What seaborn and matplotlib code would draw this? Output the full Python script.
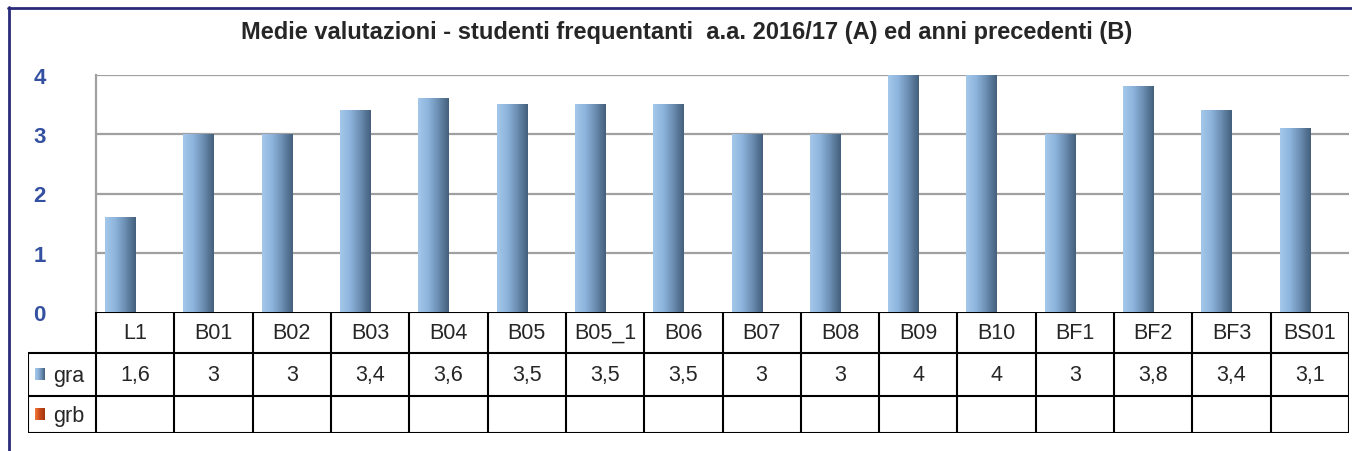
import numpy as np
import pandas as pd
import matplotlib
matplotlib.use("Agg")
import matplotlib.pyplot as plt
import seaborn as sns
from matplotlib.colors import LinearSegmentedColormap
from matplotlib.lines import Line2D

# data
categories = ["L1", "B01", "B02", "B03", "B04", "B05", "B05_1", "B06",
              "B07", "B08", "B09", "B10", "BF1", "BF2", "BF3", "BS01"]
gra = [1.6, 3, 3, 3.4, 3.6, 3.5, 3.5, 3.5, 3, 3, 4, 4, 3, 3.8, 3.4, 3.1]
grb = [np.nan] * len(categories)
series = ["gra", "grb"]
yticks = [0, 1, 2, 3, 4]
title = "Medie valutazioni - studenti frequentanti  a.a. 2016/17 (A) ed anni precedenti (B)"

df = pd.DataFrame({
    "cat": categories * 2,
    "serie": ["gra"] * len(categories) + ["grb"] * len(categories),
    "val": gra + grb,
})

sns.set_style("white")
plt.rcParams["font.family"] = ["Liberation Sans", "DejaVu Sans"]

W, H = 1352, 452
fig = plt.figure(figsize=(W / 100, H / 100), dpi=100)

# main plot area (pixel boxes converted to figure fractions)
x0, x1, ytop, ybot = 96, 1349, 76, 313
ax = fig.add_axes([x0 / W, 1 - ybot / H, (x1 - x0) / W, (ybot - ytop) / H])

blues = LinearSegmentedColormap.from_list("gb", ["#a3c8ea", "#8db4dc", "#6a8cb0", "#44607c"])
reds = LinearSegmentedColormap.from_list("gr", ["#f07838", "#c84818", "#a03810"])

sns.barplot(data=df, x="cat", y="val", hue="serie", hue_order=series,
            order=categories, width=0.77, ax=ax, legend=False,
            errorbar=None, palette=["#8db4dc", "#d05020"])

grad = np.linspace(0, 1, 64).reshape(1, -1)
for p in list(ax.patches):
    h = p.get_height()
    if not np.isfinite(h) or h == 0:
        continue
    bx, bw = p.get_x(), p.get_width()
    p.set_facecolor("none")
    p.set_edgecolor("none")
    ax.imshow(grad, extent=[bx, bx + bw, 0, h], cmap=blues, aspect="auto",
              zorder=3, interpolation="bilinear")

ax.set_xlim(-0.5, len(categories) - 0.5)
ax.set_ylim(0, 4)
ax.set_yticks(yticks)
ax.set_yticklabels([str(t) for t in yticks], fontsize=16, fontweight="bold",
                   color="#3450a0")
ax.set_xticks([])
ax.set_xlabel("")
ax.set_ylabel("")
for t in yticks[1:]:
    ax.axhline(t, color="#a0a0a0", lw=1.6, zorder=1)
ax.tick_params(axis="y", length=6, width=1.5, color="#a0a0a0", direction="out", pad=30)
for s in ["top", "right", "bottom"]:
    ax.spines[s].set_visible(False)
ax.spines["left"].set_color("#a0a0a0")
ax.spines["left"].set_linewidth(1.6)
ax.set_facecolor("none")

# data table below the bars
tx0, tbot = 28, 434
tab = fig.add_axes([tx0 / W, 1 - tbot / H, (x1 - tx0) / W, (tbot - ybot) / H])
colw = (x1 - x0) / len(categories)
left = -0.5 - (x0 - tx0) / colw
rows = [313, 354, 397, 434]
tab.axis("off")
lw = 1.5
tab.plot([-0.5, len(categories) - 0.5], [rows[0], rows[0]], color="black", lw=lw)
for r in rows[1:]:
    tab.plot([left, len(categories) - 0.5], [r, r], color="black", lw=lw)
tab.plot([left, left], [rows[1], rows[3]], color="black", lw=lw)
for i in range(len(categories) + 1):
    tab.plot([i - 0.5, i - 0.5], [rows[0], rows[3]], color="black", lw=lw)

def fmt(v):
    if not np.isfinite(v):
        return ""
    return f"{v:g}".replace(".", ",")

fs = 15.5
for i, c in enumerate(categories):
    tab.text(i, (rows[0] + rows[1]) / 2, c, ha="center", va="center", fontsize=fs)
    tab.text(i, (rows[1] + rows[2]) / 2, fmt(gra[i]), ha="center", va="center", fontsize=fs)
    tab.text(i, (rows[2] + rows[3]) / 2, fmt(grb[i]), ha="center", va="center", fontsize=fs)

# legend keys in the row headers
kx = left + 7 / colw
kw = 10 / colw
for r, name, cm in [(1, "gra", blues), (2, "grb", reds)]:
    yc = (rows[r] + rows[r + 1]) / 2
    tab.imshow(grad, extent=[kx, kx + kw, yc + 6, yc - 6], cmap=cm, aspect="auto")
    tab.text(left + 25 / colw, yc + 1, name, ha="left", va="center", fontsize=fs)
tab.set_xlim(left, len(categories) - 0.5)
tab.set_ylim(rows[-1], rows[0])

# title and outer frame
fig.text(687 / W, 1 - 32 / H, title, ha="center", va="center",
         fontsize=17, fontweight="bold")
fig.add_artist(Line2D([8 / W, 1], [1 - 8.5 / H, 1 - 8.5 / H], color="#2a2a7a", lw=2))
fig.add_artist(Line2D([8.5 / W, 8.5 / W], [0, 1 - 8 / H], color="#2a2a7a", lw=2))

fig.savefig("out.png", dpi=100)
